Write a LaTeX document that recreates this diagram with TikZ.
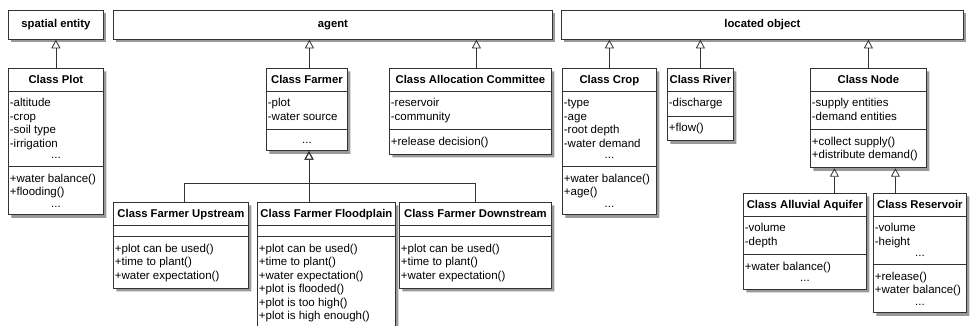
\documentclass[tikz,border=0pt]{standalone}
\usepackage{fontspec}
\setmainfont{Liberation Sans}
\usetikzlibrary{arrows.meta,positioning,shapes.multipart,shadows}

\newlength{\clsw}
\newcommand{\ctitle}[1]{\hbox to\clsw{\hss\fontsize{11.3}{13.5}\selectfont\bfseries\rule[-2.5pt]{0pt}{11.5pt}#1\hss}}
\newcommand{\cmem}[1]{\hbox to\clsw{\rule[-3.5pt]{0pt}{13.5pt}#1\hfil}}
\newcommand{\cmore}{\hbox to\clsw{\hfil\rule[-2pt]{0pt}{10pt}...\hfil}}
\newcommand{\csec}[1]{\vbox{\hsize=\clsw\offinterlineskip #1}}
\newcommand{\cnone}{\hbox to\clsw{}}

\begin{document}
\begin{tikzpicture}[x=1pt,y=-1pt,
    shade/.style={drop shadow={shadow xshift=3pt,shadow yshift=-3pt,fill=black!40,opacity=1}},
    hdr/.style={draw=black!80,line width=.8pt,fill=white,shade,anchor=north west,
        minimum height=29pt,inner sep=0pt,font=\fontsize{11.3}{13.5}\selectfont\bfseries},
    cls/.style={/utils/exec={\global\clsw=\dimexpr#1pt-3pt\relax},
        rectangle split,rectangle split parts=3,
        draw=black!80,line width=.8pt,fill=white,shade,anchor=north west,
        inner xsep=1.5pt,inner ysep=5.25pt,font=\fontsize{11.5}{13.5}\selectfont},
    isa/.style={draw=black!80,line width=.8pt,-{Triangle[open,width=9pt,length=8.5pt]}}]
    \useasboundingbox (0,0) rectangle (971,325);
    \clip (0,0) rectangle (971,325);

    \node[hdr,minimum width=95pt] (spatial) at (8,10) {spatial entity};
    \node[hdr,minimum width=439pt] (agent) at (113,10) {agent};
    \node[hdr,minimum width=402pt] (locobj) at (561,10) {located object};

    \node[cls=95] (plot) at (8,68) {\ctitle{Class Plot}
        \nodepart{second}\csec{\cmem{-altitude}\cmem{-crop}\cmem{-soil type}\cmem{-irrigation}\cmore}
        \nodepart{third}\csec{\cmem{+water balance()}\cmem{+flooding()}\cmore}};
    \node[cls=81] (farmer) at (266,68) {\ctitle{Class Farmer}
        \nodepart{second}\csec{\cmem{-plot}\cmem{-water source}}
        \nodepart{third}\csec{\cmore}};
    \node[cls=162] (alloc) at (389,68) {\ctitle{Class Allocation Committee}
        \nodepart{second}\csec{\cmem{-reservoir}\cmem{-community}}
        \nodepart{third}\csec{\cmem{+release decision()}}};
    \node[cls=94] (crop) at (562,68) {\ctitle{Class Crop}
        \nodepart{second}\csec{\cmem{-type}\cmem{-age}\cmem{-root depth}\cmem{-water demand}\cmore}
        \nodepart{third}\csec{\cmem{+water balance()}\cmem{+age()}\cmore}};
    \node[cls=66] (river) at (667,68) {\ctitle{Class River}
        \nodepart{second}\csec{\cmem{-discharge}}
        \nodepart{third}\csec{\cmem{+flow()}}};
    \node[cls=116] (nodecls) at (810,68) {\ctitle{Class Node}
        \nodepart{second}\csec{\cmem{-supply entities}\cmem{-demand entities}}
        \nodepart{third}\csec{\cmem{+collect supply()}\cmem{+distribute demand()}}};

    \node[cls=135] (upstream) at (113,202) {\ctitle{Class Farmer Upstream}
        \nodepart{second}\csec{\cnone}
        \nodepart{third}\csec{\cmem{+plot can be used()}\cmem{+time to plant()}\cmem{+water expectation()}}};
    \node[cls=138] (floodplain) at (257,202) {\ctitle{Class Farmer Floodplain}
        \nodepart{second}\csec{\cnone}
        \nodepart{third}\csec{\cmem{+plot can be used()}\cmem{+time to plant()}\cmem{+water expectation()}%
            \cmem{+plot is flooded()}\cmem{+plot is too high()}\cmem{+plot is high enough()}}};
    \node[cls=152] (downstream) at (399,202) {\ctitle{Class Farmer Downstream}
        \nodepart{second}\csec{\cnone}
        \nodepart{third}\csec{\cmem{+plot can be used()}\cmem{+time to plant()}\cmem{+water expectation()}}};
    \node[cls=123] (aquifer) at (743,193) {\ctitle{Class Alluvial Aquifer}
        \nodepart{second}\csec{\cmem{-volume}\cmem{-depth}}
        \nodepart{third}\csec{\cmem{+water balance()}\cmore}};
    \node[cls=93] (reservoir) at (873,193) {\ctitle{Class Reservoir}
        \nodepart{second}\csec{\cmem{-volume}\cmem{-height}\cmore}
        \nodepart{third}\csec{\cmem{+release()}\cmem{+water balance()}\cmore}};

    \draw[isa] (plot.north) -- (plot.north |- spatial.south);
    \draw[isa] ([xshift=2.5pt]farmer.north) -- ([xshift=2.5pt]farmer.north |- agent.south);
    \draw[isa] ([xshift=6pt]alloc.north) -- ([xshift=6pt]alloc.north |- agent.south);
    \draw[isa] (crop.north) -- (crop.north |- locobj.south);
    \draw[isa] (river.north) -- (river.north |- locobj.south);
    \draw[isa] (nodecls.north) -- (nodecls.north |- locobj.south);

    \coordinate (fork) at (309,183);
    \draw[isa] ([xshift=3.5pt]upstream.north) |- (fork) -- (fork |- farmer.south);
    \draw[isa] (fork |- floodplain.north) -- (fork |- farmer.south);
    \draw[isa] (downstream.north) |- (fork) -- (fork |- farmer.south);

    \draw[isa] ([xshift=29.5pt]aquifer.north) -- ([xshift=29.5pt]aquifer.north |- nodecls.south);
    \draw[isa] ([xshift=-24.5pt]reservoir.north) -- ([xshift=-24.5pt]reservoir.north |- nodecls.south);
\end{tikzpicture}
\end{document}
